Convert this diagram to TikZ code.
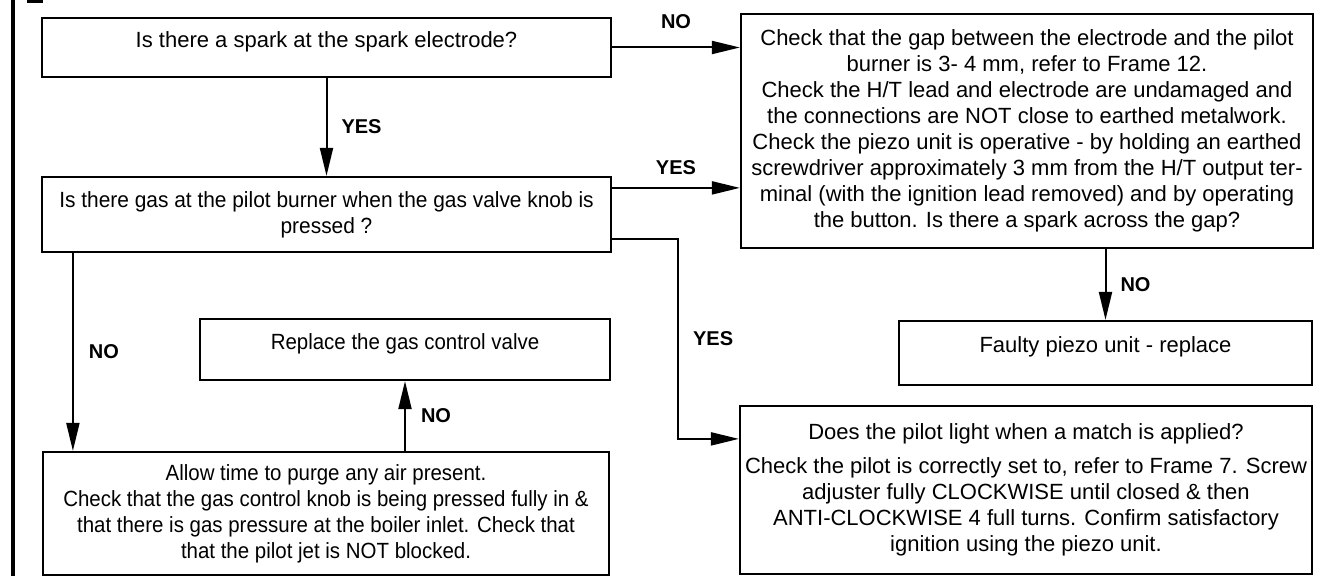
\documentclass[tikz,border=0pt]{standalone}
\usepackage{fontspec}
\setmainfont{Liberation Sans}
\newfontfamily\narrowfont[FakeStretch=0.93]{Liberation Sans}
\newfontfamily\gasfont[FakeStretch=0.95]{Liberation Sans}
\usetikzlibrary{arrows.meta}

\begin{document}
\begin{tikzpicture}[
  x=0.5pt, y=-0.5pt,
  %--- block styles ---
  box/.style={draw, line width=1.1pt, align=center, inner sep=2pt,
    font=\fontsize{11}{13}\selectfont},
  nbox/.style={box, font=\narrowfont\fontsize{11}{13}\selectfont},
  lift/.style={text depth=8pt},
  %--- arrows ---
  arr/.style={-{Triangle[length=14pt,width=6.5pt]}, line width=1pt},
  %--- branch labels ---
  lbl/.style={font=\bfseries\fontsize{10}{12}\selectfont, inner sep=1pt}
]
\useasboundingbox (0,0) rectangle (1329,576);

%% ── FRAME EDGE ──────────────────────────────────────────────────────────────
\draw[line width=1.6pt] (13,0) -- (13,576);
\fill (27,0) rectangle (43,3);

%% ── LEFT COLUMN ─────────────────────────────────────────────────────────────
\node[box, lift, minimum width=284.5pt, minimum height=29.5pt] (spark) at (326.5,47.5)
  {Is there a spark at the spark electrode?};

\node[nbox, font=\gasfont\fontsize{11}{13}\selectfont,
      minimum width=284.5pt, minimum height=37.5pt] (gas) at (326.5,214.5)
  {Is there gas at the pilot burner when the gas valve knob is\\
   pressed ?};

\node[nbox, lift, minimum width=205pt, minimum height=30.5pt] (replace) at (405,349.5)
  {Replace the gas control valve};

\node[nbox, minimum width=283pt, minimum height=61.5pt] (purge) at (326,513.5)
  {Allow time to purge any air present.\\
   Check that the gas control knob is being pressed fully in \&\\
   that there is gas pressure at the boiler inlet. Check that\\
   that the pilot jet is NOT blocked.};

%% ── RIGHT COLUMN ────────────────────────────────────────────────────────────
\node[box, minimum width=286pt, minimum height=117pt] (check) at (1027,131)
  {Check that the gap between the electrode and the pilot\\
   burner is 3- 4 mm, refer to Frame 12.\\
   Check the H/T lead and electrode are undamaged and\\
   the connections are NOT close to earthed metalwork.\\
   Check the piezo unit is operative - by holding an earthed\\
   screwdriver approximately 3 mm from the H/T output ter-\\
   minal (with the ignition lead removed) and by operating\\
   the button. Is there a spark across the gap?};

\node[box, lift, minimum width=206.5pt, minimum height=32pt] (faulty) at (1105.5,353)
  {Faulty piezo unit - replace};

\node[box, minimum width=286pt, minimum height=84pt] (match) at (1026,490)
  {Does the pilot light when a match is applied?\\[4pt]
   Check the pilot is correctly set to, refer to Frame 7. Screw\\
   adjuster fully CLOCKWISE until closed \& then\\
   ANTI-CLOCKWISE 4 full turns. Confirm satisfactory\\
   ignition using the piezo unit.};

%% ── ARROWS ──────────────────────────────────────────────────────────────────
\coordinate (g1) at ([yshift=-6pt]gas.north east);
\coordinate (g2) at ([yshift=7pt]gas.south east);
\coordinate (g3) at ([xshift=16pt]gas.south west);
\coordinate (m1) at ([yshift=-17pt]match.north west);

\draw[arr] (spark) -- node[lbl, right=6pt] (yesgas) {YES} (gas);
\draw[arr] (spark) -- node[lbl, above=8pt] (nocheck) {NO} (spark -| check.west);
\draw[arr] (g1) -- node[lbl, above=5pt] (yescheck) {YES} (g1 -| check.west);
\draw[arr] (g2) -- ++(33pt,0) |- node[lbl, pos=0.25, right=6pt] (yesmatch) {YES} (m1);
\draw[arr] (g3) -- node[lbl, right=6.5pt] (nopurge) {NO} (g3 |- purge.north);
\draw[arr] (purge.north -| replace) -- node[lbl, right=6.5pt] (noreplace) {NO} (replace);
\draw[arr] (check.south -| faulty) -- node[lbl, right=6pt] (nofaulty) {NO} (faulty);
\end{tikzpicture}
\end{document}
